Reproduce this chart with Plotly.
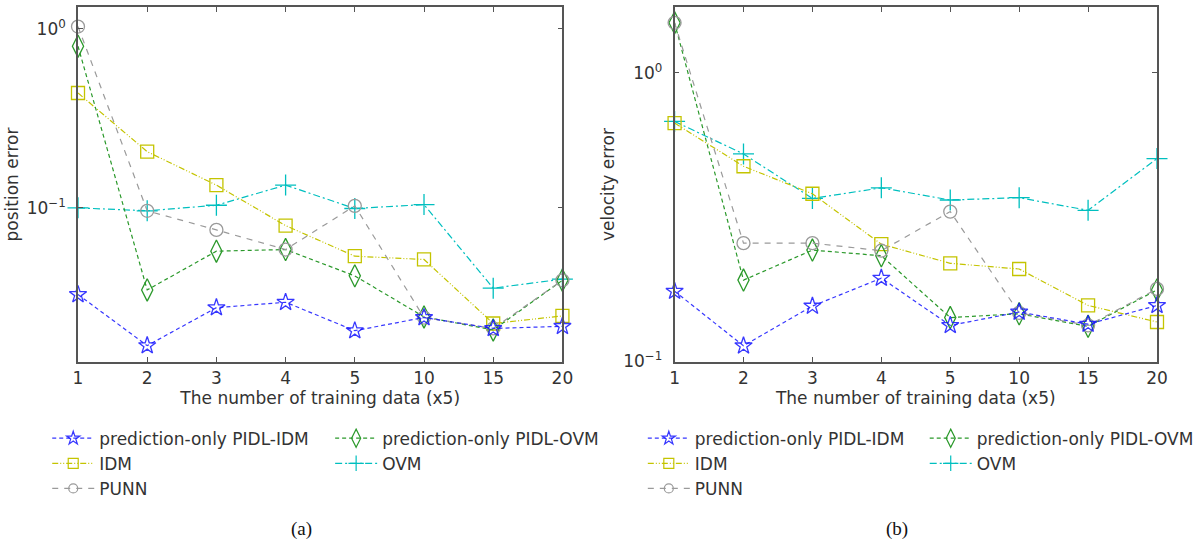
import plotly.graph_objects as go

categories = ["1", "2", "3", "4", "5", "10", "15", "20"]

# position error (panel a)
pos_pidl_idm = [0.0328, 0.0170, 0.0277, 0.0297, 0.0206, 0.0244, 0.0212, 0.0218]
pos_idm = [0.438, 0.206, 0.134, 0.0796, 0.0537, 0.0515, 0.0226, 0.0249]
pos_punn = [1.03, 0.0963, 0.0753, 0.0585, 0.1026, 0.0244, 0.0212, 0.0394]
pos_pidl_ovm = [0.80, 0.0348, 0.0573, 0.0585, 0.0417, 0.0246, 0.0208, 0.0394]
pos_ovm = [0.100, 0.0963, 0.1034, 0.134, 0.0992, 0.1043, 0.0356, 0.0400]

# velocity error (panel b)
vel_pidl_idm = [0.1748, 0.113, 0.1552, 0.194, 0.1330, 0.148, 0.1343, 0.156]
vel_idm = [0.669, 0.474, 0.3805, 0.2545, 0.2184, 0.2087, 0.156, 0.1367]
vel_punn = [1.49, 0.2565, 0.2565, 0.2415, 0.330, 0.147, 0.133, 0.178]
vel_pidl_ovm = [1.49, 0.191, 0.2427, 0.232, 0.1416, 0.146, 0.132, 0.1766]
vel_ovm = [0.678, 0.523, 0.3667, 0.399, 0.362, 0.3687, 0.3334, 0.504]

W, H = 1204, 545
ML, MR, MT, MB = 78, 39, 5, 183
PW = W - ML - MR
PH = H - MT - MB

def px_x(p):
    return (p - ML) / PW

def px_y(p):
    return (H - MB - p) / PH

FONT = "DejaVu Sans, Verdana, sans-serif"
FS = 17

styles = {
    "OVM": dict(color="#00bfbf", dash="7px,3px,2px,3px", symbol="cross-thin-open", size=15, lsize=11),
    "IDM": dict(color="#c4c400", dash="6px,2px,1px,2px,1px,2px", symbol="square-open", size=13, lsize=10),
    "prediction-only PIDL-OVM": dict(color="#2b992b", dash="4px,3px", symbol="diamond-tall-open", size=16, lsize=13),
    "PUNN": dict(color="#9a9a9a", dash="6px,6px", symbol="circle-open", size=13, lsize=9),
    "prediction-only PIDL-IDM": dict(color="rgba(20,20,255,0.85)", dash="4px,3px", symbol="star-open", size=13, lsize=10),
}

legend_map_left = {
    "prediction-only PIDL-IDM": ("legend", 1), "IDM": ("legend", 2), "PUNN": ("legend", 3),
    "prediction-only PIDL-OVM": ("legend2", 1), "OVM": ("legend2", 2),
}
legend_map_right = {
    "prediction-only PIDL-IDM": ("legend3", 1), "IDM": ("legend3", 2), "PUNN": ("legend3", 3),
    "prediction-only PIDL-OVM": ("legend4", 1), "OVM": ("legend4", 2),
}

pos_data = {
    "prediction-only PIDL-IDM": pos_pidl_idm, "IDM": pos_idm, "PUNN": pos_punn,
    "prediction-only PIDL-OVM": pos_pidl_ovm, "OVM": pos_ovm,
}
vel_data = {
    "prediction-only PIDL-IDM": vel_pidl_idm, "IDM": vel_idm, "PUNN": vel_punn,
    "prediction-only PIDL-OVM": vel_pidl_ovm, "OVM": vel_ovm,
}

draw_order = ["OVM", "IDM", "prediction-only PIDL-OVM", "PUNN", "prediction-only PIDL-IDM"]
xs = list(range(len(categories)))

fig = go.Figure()
for data, xa, ya, lmap in [(pos_data, "x", "y", legend_map_left), (vel_data, "x2", "y2", legend_map_right)]:
    for nm in draw_order:
        s = styles[nm]
        lg, rank = lmap[nm]
        fig.add_trace(go.Scatter(
            x=xs, y=data[nm], xaxis=xa, yaxis=ya, name=nm, mode="lines+markers",
            line=dict(color=s["color"], width=1.2, dash=s["dash"]),
            marker=dict(symbol=s["symbol"], size=s["size"], color=s["color"],
                        line=dict(color=s["color"], width=1.3)),
            showlegend=False, cliponaxis=False,
        ))
        # legend entry with smaller marker
        fig.add_trace(go.Scatter(
            x=[None], y=[None], xaxis=xa, yaxis=ya, name=nm, mode="lines+markers",
            line=dict(color=s["color"], width=1.2, dash=s["dash"]),
            marker=dict(symbol=s["symbol"], size=s["lsize"], color=s["color"],
                        line=dict(color=s["color"], width=1.2)),
            legend=lg, legendrank=rank, showlegend=True,
        ))

frame = dict(showline=True, linecolor="#555555", linewidth=1.6, mirror="ticks",
             ticks="inside", ticklen=5, tickcolor="#555555", showgrid=False, zeroline=False,
             tickfont=dict(family=FONT, size=FS, color="#333333"))

d1 = [0, px_x(566)]
d2 = [px_x(679), 1]
title_font = dict(family=FONT, size=FS, color="#333333")

fig.update_layout(
    width=W, height=H,
    margin=dict(l=ML, r=MR, t=MT, b=MB),
    paper_bgcolor="white", plot_bgcolor="white",
    font=dict(family=FONT, size=FS, color="#333333"),
    xaxis=dict(domain=d1, anchor="y", range=[0, 7], tickvals=xs, ticktext=categories,
               title=dict(text="The number of training data (x5)", standoff=2, font=title_font),
               **frame),
    yaxis=dict(domain=[0, 1], anchor="x", type="log", range=[-1.861, 0.122],
               tickvals=[0.1, 1], ticktext=["10<sup>\u22121</sup>", "10<sup>0</sup>"],
               ticklabelstandoff=7,
               title=dict(text="position error", standoff=4, font=title_font),
               **frame),
    xaxis2=dict(domain=d2, anchor="y2", range=[0, 7], tickvals=xs, ticktext=categories,
                title=dict(text="The number of training data (x5)", standoff=2, font=title_font),
                **frame),
    yaxis2=dict(domain=[0, 1], anchor="x2", type="log", range=[-1.003, 0.228],
                tickvals=[0.1, 1], ticktext=["10<sup>\u22121</sup>", "10<sup>0</sup>"],
                ticklabelstandoff=7,
                title=dict(text="velocity error", standoff=4, font=title_font),
                **frame),
)

leg_common = dict(orientation="v", xanchor="left", yanchor="top", bgcolor="rgba(0,0,0,0)",
                  font=dict(family=FONT, size=FS, color="#333333"),
                  itemwidth=42, traceorder="normal")
ly = px_y(421)
fig.update_layout(
    legend=dict(x=px_x(47), y=ly, **leg_common),
    legend2=dict(x=px_x(332), y=ly, **leg_common),
    legend3=dict(x=px_x(647), y=ly, **leg_common),
    legend4=dict(x=px_x(931), y=ly, **leg_common),
)

for txt, cx in [("(a)", 303), ("(b)", 903)]:
    fig.add_annotation(text=txt, x=px_x(cx), y=px_y(530), xref="paper", yref="paper",
                       showarrow=False, xanchor="center", yanchor="middle",
                       font=dict(family="Liberation Serif", size=19, color="#111111"))

fig.write_html("out.html", config={"displayModeBar": False},
               post_script="document.body.style.margin='0px';")
